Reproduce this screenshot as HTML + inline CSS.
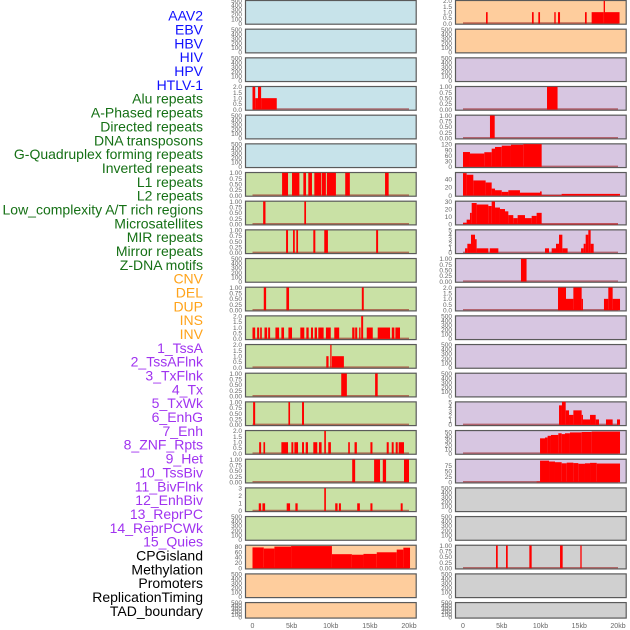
<!DOCTYPE html>
<html><head><meta charset="utf-8">
<style>
html,body{margin:0;padding:0;background:#fff;}
svg{display:block;}
text{font-family:"Liberation Sans",sans-serif;}
</style></head>
<body>
<svg id="chart" width="630" height="630" viewBox="0 0 630 630" xmlns="http://www.w3.org/2000/svg"></svg>
<script>
// ---- labels ----
const labelNames = ["AAV2","EBV","HBV","HIV","HPV","HTLV-1","Alu repeats","A-Phased repeats","Directed repeats","DNA transposons","G-Quadruplex forming repeats","Inverted repeats","L1 repeats","L2 repeats","Low_complexity A/T rich regions","Microsatellites","MIR repeats","Mirror repeats","Z-DNA motifs","CNV","DEL","DUP","INS","INV","1_TssA","2_TssAFlnk","3_TxFlnk","4_Tx","5_TxWk","6_EnhG","7_Enh","8_ZNF_Rpts","9_Het","10_TssBiv","11_BivFlnk","12_EnhBiv","13_ReprPC","14_ReprPCWk","15_Quies","CPGisland","Methylation","Promoters","ReplicationTiming","TAD_boundary"];
const labelGroups = [6,13,5,15,5];
const groupColors = ["#1010ff","#157015","#ffa31a","#a033f0","#000000"];
// ---- panel config ----
const leftMax  = [500,500,500,2,500,500,1,1,1,500,1,2,2,1,1,2,1,3,500,84,500,500];
const rightMax = [2,500,500,1,1,121,55.7,30,5,1,2,500,500,500,5,53.7,102,500,500,1,500,500];
const leftBg  = ["b","b","b","b","b","b","g","g","g","g","g","g","g","g","g","g","g","g","g","o","o","o"];
const rightBg = ["o","o","p","p","p","p","p","p","p","p","p","p","p","p","p","p","p","r","r","r","r","r"];
const bgColors = {b:"#c7e3ea",g:"#c9e1a5",o:"#fecd9d",p:"#d7c6e1",r:"#d0d0d0"};
const tickSets = {
 "500":["0","100","200","300","400","500"],
 "2":["0.0","0.5","1.0","1.5","2.0"],
 "1":["0.00","0.25","0.50","0.75","1.00"],
 "3":["0","1","2","3"],
 "84":["0","20","40","60","80"],
 "121":["0","30","60","90","120"],
 "55.7":["0","20","40"],
 "30":["0","10","20","30"],
 "5":["0","1","2","3","4","5"],
 "53.7":["0","10","20","30","40","50"],
 "102":["0","25","50","75"]
};
const xTicks = [0,5,10,15,20];
const xTickLabels = ["0","5kb","10kb","15kb","20kb"];
// ---- data: [startKb, endKb, value] ----
const L3 = [[0,0.35,2],[0.35,0.7,1],[0.7,1.1,2],[1.1,3.1,1]];
const L6 = [[3.78,4.54,1],[5.05,5.99,1],[6.5,6.84,1],[7.13,7.6,1],[7.9,8.79,1],[8.87,9.38,1],[9.5,10.66,1],[11.85,12.44,1],[16.94,17.4,1]];
const L7 = [[1.36,1.66,1],[6.62,6.84,1]];
const L8 = [[4.29,4.54,1],[5.18,5.4,1],[5.6,5.82,1],[7.77,8.03,1],[9.17,9.64,1],[15.8,16.05,1]];
const L10 = [[1.44,1.74,1],[4.33,4.67,1],[13.97,14.22,1]];
const L11 = [[0,0.34,1],[0.59,0.85,1],[0.98,1.19,1],[1.53,1.87,1],[2.0,2.25,1],[2.93,3.4,1],[3.69,4.03,1],[4.59,5.05,1],[6.11,6.62,1],[6.88,7.18,1],[7.47,7.73,1],[7.94,8.24,1],[8.41,9.09,1],[9.38,10.0,1],[10.45,11.08,1],[12.74,13.04,1],[13.12,13.38,1],[13.63,13.8,1],[13.89,14.14,2],[14.6,15.37,1],[16.0,17.58,1],[17.8,18.13,1],[18.26,18.85,1]];
const L12 = [[9.43,9.72,1],[9.94,10.1,2],[10.15,11.68,1]];
const L13 = [[11.34,12.06,1],[15.67,16.0,1]];
const L14 = [[0.08,0.34,1],[4.59,4.8,1],[6.33,6.58,1]];
const L15 = [[0.85,1.1,1],[1.4,1.61,1],[3.69,4.54,1],[4.97,5.22,1],[5.35,5.82,1],[6.33,6.58,1],[6.8,7.09,1],[7.77,8.28,1],[8.49,8.83,1],[9.17,9.38,2],[9.68,10.02,1],[12.23,12.44,1],[13.04,13.34,1],[15.07,15.33,1],[17.15,17.41,1],[17.79,18.04,1],[18.3,18.56,1],[18.68,19.36,1]];
const L16 = [[12.74,13.12,1],[15.54,16.3,1],[16.65,17.07,1],[19.36,20.0,1]];
const L17 = [[0.8,1.1,1],[1.27,1.61,1],[4.37,4.8,1],[5.48,5.77,1],[9.17,9.38,3],[10.57,10.87,1],[11.04,11.3,1],[13.38,13.72,1],[15.07,15.33,1],[18.94,19.19,1]];
const L19 = [[0,1.44,77],[1.44,2.8,73],[2.8,4.93,80],[4.93,10.15,82],[10.15,12.7,52],[12.7,14.18,50],[14.18,15.88,53],[15.88,18.43,59],[18.43,19.28,69],[19.28,20.13,76]];
const R0 = [[2.97,3.18,1],[8.9,9.12,1],[9.72,9.94,1],[11.78,11.96,1],[12.26,12.52,1],[15.74,15.96,1],[16.6,18.15,1],[18.15,18.32,2],[18.32,20.2,1]];
const R3 = [[10.84,12.2,1]];
const R4 = [[3.48,4.09,1]];
const R5 = [[0,0.9,79],[0.9,2.75,71],[2.75,3.7,78],[3.7,4.13,97],[4.13,5.0,106],[5.0,6.19,113],[6.19,7.78,118],[7.78,10.15,121]];
const R6 = [[0,0.47,55],[0.47,1.33,51],[1.33,2.92,37],[2.92,3.7,32],[3.7,4.13,17],[4.13,5.0,13],[5.0,5.85,9],[5.85,7.35,13],[7.35,9.94,7],[9.94,10.15,10],[10.15,12.73,1],[12.73,20.26,4]];
const R7 = [[0,0.47,2],[0.47,0.9,6],[0.9,1.12,15],[1.12,1.76,28],[1.76,3.27,26],[3.27,3.7,24],[3.7,4.13,30],[4.13,4.77,22],[4.77,5.42,20],[5.42,5.85,17],[5.85,6.49,12],[6.49,7.05,8],[7.05,8.0,12],[8.0,8.86,8],[8.86,9.5,11],[9.5,10.15,15],[10.15,20.0,0.5]];
const R8 = [[0.26,0.56,1],[0.56,1.03,2],[1.03,1.55,4],[1.55,1.76,3],[1.76,3.27,1],[3.45,4.56,1],[10.58,11.1,1],[11.44,12.0,1],[12.0,12.39,2],[12.39,12.82,4],[12.82,13.5,1],[15.23,15.57,1],[15.57,15.83,2],[15.83,16.17,4],[16.17,16.47,5],[16.47,16.86,2]];
const R9 = [[7.48,8.2,1]];
const R10 = [[12.26,13.29,2],[13.29,14.24,1],[14.24,15.31,2],[15.31,15.48,1],[18.19,18.75,1],[18.75,19.31,2],[19.31,20.26,1]];
const R14 = [[12.39,12.77,4.3],[12.77,13.25,5.1],[13.25,13.68,3.2],[13.68,14.24,2.2],[14.24,15.31,3.2],[15.31,15.48,2.2],[15.48,16.39,1.2],[16.39,17.12,2.2],[17.12,17.55,1.2],[18.45,19.31,1.2],[19.87,20.26,1.2]];
const R15 = [[9.94,10.58,36],[10.58,10.92,38],[10.92,11.35,42],[11.35,12.3,44],[12.3,12.73,48],[12.73,13.16,46],[13.16,13.8,48],[13.8,15.31,50],[15.31,16.6,51],[16.6,20.26,52]];
const R16 = [[9.5,9.94,3],[9.94,11.1,97],[11.1,11.87,93],[11.87,12.73,90],[12.73,13.38,85],[13.38,14.24,88],[14.24,14.88,86],[14.88,15.74,83],[15.74,16.39,85],[16.39,17.25,87],[17.25,20.26,84]];
const R19 = [[4.26,4.48,1],[5.55,5.77,1],[8.56,8.86,1],[12.52,12.86,1],[15.14,15.31,1]];
const leftData = {3:L3,6:L6,7:L7,8:L8,10:L10,11:L11,12:L12,13:L13,14:L14,15:L15,16:L16,17:L17,19:L19};
const rightData = {0:R0,3:R3,4:R4,5:R5,6:R6,7:R7,8:R8,9:R9,10:R10,14:R14,15:R15,16:R16,19:R19};

const NS = "http://www.w3.org/2000/svg";
const svg = document.getElementById("chart");
function mk(tag, attrs, parent){
  const e = document.createElementNS(NS, tag);
  for (const k in attrs) e.setAttribute(k, attrs[k]);
  (parent||svg).appendChild(e);
  return e;
}
const cols = [
  {x0:245, x1:416.7, px0:252.5, px1:409, max:leftMax, bg:leftBg, data:leftData, side:"left"},
  {x0:455, x1:626.7, px0:463, px1:618, max:rightMax, bg:rightBg, data:rightData, side:"right"}
];
function rowTop(i){ return i*28.67; }
function rowH(i){ return i===21 ? 16.5 : 24.7; }

let li = 0;
labelGroups.forEach((n,g)=>{
  for(let k=0;k<n;k++){
    const t = mk("text",{x:203,y:20.7+li*13.84,"text-anchor":"end","font-size":"14",fill:groupColors[g]});
    t.textContent = labelNames[li];
    
    
    li++;
  }
});

cols.forEach(c=>{
  const xs = kb => c.px0 + (c.px1-c.px0)*kb/20;
  for(let i=0;i<22;i++){
    const top=rowTop(i), h=rowH(i);
    const g = mk("g",{});
    
    
    const r = mk("rect",{x:c.x0+0.5,y:top+0.5,width:c.x1-c.x0-1,height:h-1,fill:bgColors[c.bg[i]],stroke:"#5a5a5a","stroke-width":"1.2"},g);
    
    
    const mx = c.max[i];
    const y0 = top+h-1.2, y1 = top+0.8;
    const ys = v => y0 - (y0-y1)*v/mx;
    const tl = tickSets[String(mx)];
    tl.forEach(lab=>{
      const v = parseFloat(lab);
      const t = mk("text",{x:c.x0-3,y:ys(v)+2.3,"text-anchor":"end","font-size":"6.5",fill:"#666"},g);
      t.textContent = lab;
      
      
    });
    const d = c.data[i];
    if(d){
      const bl = mk("line",{x1:xs(0),x2:xs(20),y1:y0-0.5,y2:y0-0.5,stroke:"rgba(150,20,20,0.55)","stroke-width":"1.4"},g);
      
      
      d.forEach(s=>{
        const xa=xs(s[0]), xb=xs(s[1]), yt=ys(s[2]);
        const b = mk("rect",{x:xa,y:yt,width:Math.max(xb-xa,1.2),height:Math.max(y0-yt,0.5),fill:"#ff0000"},g);
        
        
      });
    }
  }
  xTicks.forEach((v,k)=>{
    const t = mk("text",{x:xs(v),y:628,"text-anchor":"middle","font-size":"7",fill:"#666"});
    t.textContent = xTickLabels[k];
    
    
  });
});
</script>
</body></html>
